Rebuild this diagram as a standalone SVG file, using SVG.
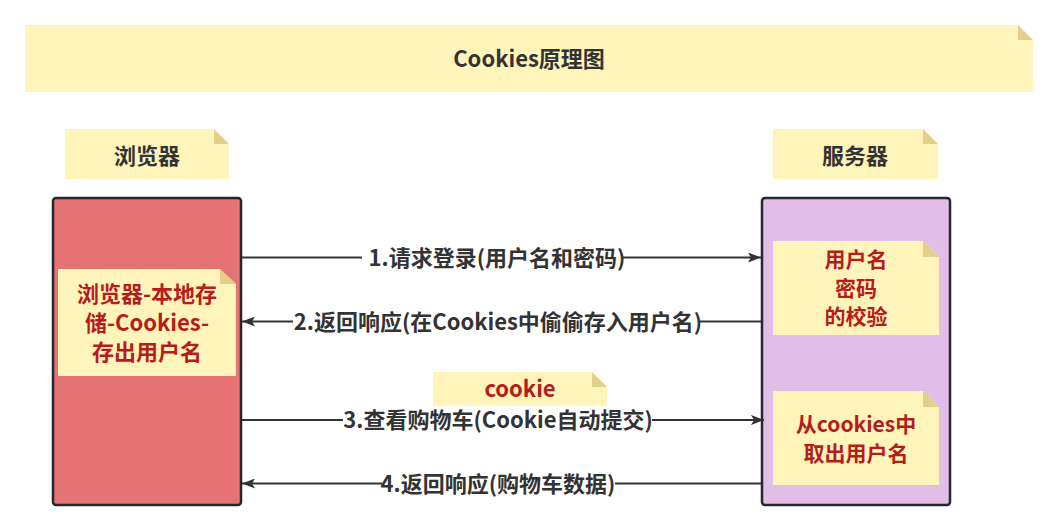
<svg xmlns="http://www.w3.org/2000/svg" width="1059" height="531" viewBox="0 0 1059 531">
<defs>
<style>
.note{fill:#fff5bb}
.fold{fill:#e3cf8a}
.t{font-family:"Noto Sans CJK SC","Liberation Sans",sans-serif;font-weight:bold;font-size:22px;text-anchor:middle;dominant-baseline:central}
.s21{font-size:21px}
.dark{fill:#333333}
.red{fill:#b71c1c}
.box{stroke:#23272e;stroke-width:2.5}
.ln{stroke:#333333;stroke-width:2;fill:none}
</style>
<marker id="ah" markerWidth="13" markerHeight="10" refX="13" refY="5" orient="auto" markerUnits="userSpaceOnUse">
<path d="M0,0 L13,5 L0,10 L3,5 Z" fill="#333333"/>
</marker>
</defs>
<rect width="1059" height="531" fill="#ffffff"/>

<g id="title">
<polygon class="note" points="25,25 1018,25 1033,40 1033,92 25,92"/>
<polygon class="fold" points="1018,25 1018,40 1033,40"/>
<text class="t dark" x="529" y="56.5">Cookies原理图</text>
</g>

<g id="browser-label">
<polygon class="note" points="65,129 214,129 229,144 229,179 65,179"/>
<polygon class="fold" points="214,129 214,144 229,144"/>
<text class="t dark" x="147" y="153.5">浏览器</text>
</g>

<g id="server-label">
<polygon class="note" points="773,129 923,129 938,144 938,179 773,179"/>
<polygon class="fold" points="923,129 923,144 938,144"/>
<text class="t dark" x="855" y="153.5">服务器</text>
</g>

<g id="browser">
<rect class="box" x="53" y="198" width="188" height="307" rx="3" fill="#e57373"/>
</g>

<g id="browser-note">
<polygon class="note" points="58,269 220,269 236,284 236,376 58,376"/>
<polygon class="fold" points="220,269 220,284 236,284"/>
<text class="t red" x="147" y="292">浏览器-本地存</text>
<text class="t red" x="147" y="321">储-Cookies-</text>
<text class="t red" x="147" y="350">存出用户名</text>
</g>

<g id="server">
<rect class="box" x="762" y="198" width="188" height="307" rx="3" fill="#e1bee7"/>
</g>

<g id="server-note-1">
<polygon class="note" points="773,241 923,241 939,257 939,335 773,335"/>
<polygon class="fold" points="923,241 923,257 939,257"/>
<text class="t red s21" x="856" y="258">用户名</text>
<text class="t red s21" x="856" y="286.5">密码</text>
<text class="t red s21" x="856" y="315">的校验</text>
</g>

<g id="server-note-2">
<polygon class="note" points="773,391 923,391 939,407 939,485 773,485"/>
<polygon class="fold" points="923,391 923,407 939,407"/>
<text class="t red s21" x="856" y="423">从cookies中</text>
<text class="t red s21" x="856" y="452">取出用户名</text>
</g>

<g id="connectors">
<line class="ln" x1="242" y1="257.5" x2="761" y2="257.5" marker-end="url(#ah)"/>
<rect x="362" y="244" width="261" height="27" fill="#ffffff"/>
<text class="t dark" x="497" y="255.5">1.请求登录(用户名和密码)</text>

<line class="ln" x1="761" y1="321.5" x2="242" y2="321.5" marker-end="url(#ah)"/>
<rect x="293" y="308" width="407" height="27" fill="#ffffff"/>
<text class="t dark" x="498" y="319.5">2.返回响应(在Cookies中偷偷存入用户名)</text>

<line class="ln" x1="242" y1="420" x2="764" y2="420" marker-end="url(#ah)"/>
<rect x="343" y="407" width="309" height="26" fill="#ffffff"/>
<text class="t dark" x="498" y="418">3.查看购物车(Cookie自动提交)</text>

<line class="ln" x1="761" y1="483.5" x2="242" y2="483.5" marker-end="url(#ah)"/>
<rect x="382" y="470" width="233" height="27" fill="#ffffff"/>
<text class="t dark" x="498" y="481.5">4.返回响应(购物车数据)</text>
</g>

<g id="cookie-note">
<polygon class="note" points="433,372 592,372 607,387 607,406 433,406"/>
<polygon class="fold" points="592,372 592,387 607,387"/>
<text class="t red" x="520" y="387">cookie</text>
</g>
</svg>
